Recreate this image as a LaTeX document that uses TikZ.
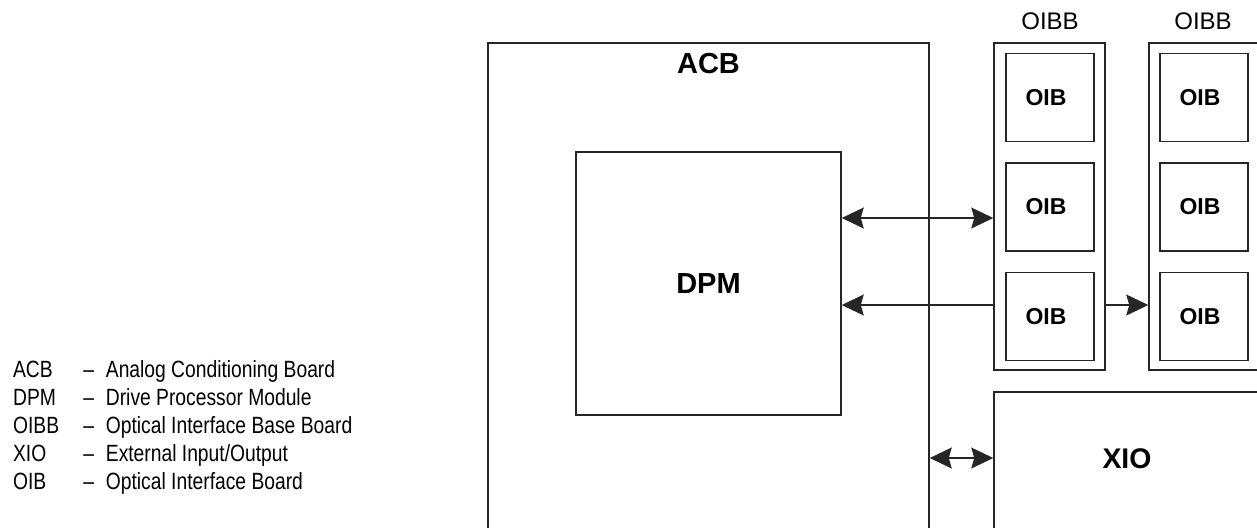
\documentclass[tikz,border=0pt]{standalone}
\usepackage{fontspec}
\setmainfont{Liberation Sans}
\newfontfamily\legendfont[FakeStretch=0.82]{Liberation Sans}
\usetikzlibrary{arrows.meta}

\begin{document}
\begin{tikzpicture}[x=0.5pt,y=-0.5pt,
  >={Stealth[length=11pt,width=10.5pt,inset=1.5pt]},
  box/.style={draw=black!85, line width=0.75pt, rectangle, inner sep=0pt},
  bigbold/.style={font=\bfseries\fontsize{14.5}{17}\selectfont},
  oib/.style={box, minimum width=44pt, minimum height=44pt,
              font=\bfseries\fontsize{11.5}{13}\selectfont},
  baseboard/.style={box, minimum width=55.5pt, minimum height=163.5pt},
  boardname/.style={anchor=base, inner sep=0pt, font=\fontsize{12}{14}\selectfont},
  link/.style={draw=black!85, line width=0.65pt},
  legend/.style={anchor=base west, inner sep=0pt,
                 font=\legendfont\fontsize{11.75}{14}\selectfont},
]
\useasboundingbox (0,0) rectangle (1257,527);
\clip (0,0) rectangle (1257,527);

% Analog conditioning board with the drive processor module inside
\node[box, minimum width=220.5pt, minimum height=263.5pt] (acb) at (708.5,306.5) {};
\node[bigbold, anchor=base, inner sep=0pt] (acbname) at (708.5,73) {ACB};
\node[box, bigbold, minimum width=132.5pt, minimum height=131.5pt] (dpm) at (708.5,283.5) {DPM};

% First optical interface base board (board labels sit slightly left of centre)
\node[baseboard] (oibb1) at (1049.5,206.5) {};
\node[boardname] (oibb1name) at (1050,29) {OIBB};
\node[oib] (oib11) at (1050,97.5) {OIB\kern4pt};
\node[oib] (oib12) at (1050,207) {OIB\kern4pt};
\node[oib] (oib13) at (1050,316.5) {OIB\kern4pt};

% Second optical interface base board
\node[baseboard] (oibb2) at (1204.5,206.5) {};
\node[boardname] (oibb2name) at (1203,29) {OIBB};
\node[oib] (oib21) at (1204,97.5) {OIB\kern4pt};
\node[oib] (oib22) at (1204,207) {OIB\kern4pt};
\node[oib] (oib23) at (1204,316.5) {OIB\kern4pt};

% External input/output
\node[box, minimum width=163pt, minimum height=89pt] (xio) at (1157,481) {};
\node[font=\bfseries\fontsize{14.2}{17}\selectfont, anchor=base, inner sep=0pt] (xioname) at (1127,468) {XIO};

% Connector rows
\coordinate (row1) at (0,218);
\coordinate (row2) at (0,305);
\coordinate (row3) at (0,458);

\draw[link, <->] (dpm.east |- row1) -- (oibb1.west |- row1);
\draw[link, ->] (oibb1.west |- row2) -- (dpm.east |- row2);
\draw[link, ->] (oibb1.east |- row2) -- (oibb2.west |- row2);
\draw[link, <->] (acb.east |- row3) -- (xio.west |- row3);

% Abbreviations
\node[legend] (ab1) at (12.7,377) {ACB};
\node[legend] (ab2) at (12.7,405) {DPM};
\node[legend] (ab3) at (12.7,433) {OIBB};
\node[legend] (ab4) at (12.7,461) {XIO};
\node[legend] (ab5) at (12.7,489) {OIB};
\foreach \i/\y in {1/377,2/405,3/433,4/461,5/489}
  \node[legend] (dash\i) at (83,\y) {\textendash};
\node[legend] (ds1) at (105.5,377) {Analog Conditioning Board};
\node[legend] (ds2) at (105.5,405) {Drive Processor Module};
\node[legend] (ds3) at (105.5,433) {Optical Interface Base Board};
\node[legend] (ds4) at (105.5,461) {External Input/Output};
\node[legend] (ds5) at (105.5,489) {Optical Interface Board};
\end{tikzpicture}
\end{document}
